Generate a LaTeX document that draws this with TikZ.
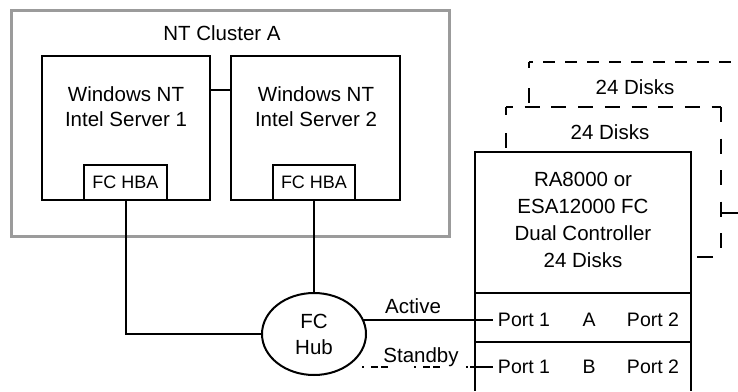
\documentclass[tikz,border=0pt]{standalone}
\usepackage{fontspec}
\setmainfont{Liberation Sans}
\usetikzlibrary{shapes.geometric,backgrounds}
\definecolor{clustergray}{RGB}{155,155,155}
\begin{document}
\begin{tikzpicture}[x=1pt,y=-1pt,
  every node/.style={font=\fontsize{20.5}{25}\selectfont, inner sep=0pt, outer sep=0pt},
  box/.style={draw, line width=2pt},
  clusterbox/.style={draw=clustergray, line width=3pt},
  smalltxt/.style={font=\fontsize{18}{22}\selectfont},
  porttxt/.style={font=\fontsize{19.5}{22}\selectfont},
  hubshape/.style={draw, ellipse, line width=2pt, fill=white, align=center,
    minimum width=104pt, minimum height=82pt, font=\fontsize{20.5}{26}\selectfont},
  conn/.style={line width=2pt},
  standby/.style={line width=2pt, dash pattern=on 1.5pt off 7.5pt on 7pt off 3pt on 7pt off 26pt},
  hdash/.style={line width=2pt, dash pattern=on 12pt off 10pt},
  vdash/.style={line width=2pt, dash pattern=on 15pt off 16.5pt}]
\useasboundingbox (0,0) rectangle (738,391);

% cluster
\node[clusterbox, minimum width=438pt, minimum height=226pt] (cluster) at (230,123) {};
\node (clab) at (222,33.5) {NT Cluster A};

% servers
\node[box, minimum width=168pt, minimum height=144pt] (srv1) at (126,128) {};
\node[box, minimum width=169pt, minimum height=144pt] (srv2) at (315.5,128) {};
\node[align=center] (t1) at (126,106.5) {Windows NT\\Intel Server 1};
\node[align=center] (t2) at (316,106.5) {Windows NT\\Intel Server 2};
\node[box, smalltxt, minimum width=83pt, minimum height=35pt] (hba1) at (125.5,182.5) {FC HBA};
\node[box, smalltxt, minimum width=82pt, minimum height=35pt] (hba2) at (314,182.5) {FC HBA};
\draw[conn] ([yshift=38pt]srv1.east) -- ([yshift=38pt]srv2.west);

% hub
\node[hubshape] (hub) at (314,334) {FC\\Hub};
\draw[conn] (hba1.south) |- (hub.west);
\draw[conn] (hba2.south) -- (hub.north);

% storage
\node[box, minimum width=216pt, minimum height=141pt] (sto) at (583,222.5) {};
\node[align=center, font=\fontsize{20.5}{27}\selectfont] (stot) at (583,220) {RA8000 or\\ESA12000 FC\\Dual Controller\\24 Disks};
\node[box, minimum width=216pt, minimum height=49pt] (rowA) at (583,317.5) {};
\node[minimum width=216pt, minimum height=49pt] (rowB) at (583,366.5) {};
\draw[conn] (rowB.north west) -- (rowB.south west) (rowB.north east) -- (rowB.south east);
\node[porttxt] (pA1) at (524,319.5) {Port 1};
\node[porttxt] (pA) at (589,319.5) {A};
\node[porttxt] (pA2) at (653,319.5) {Port 2};
\node[porttxt] (pB1) at (524,366.5) {Port 1};
\node[porttxt] (pB) at (589,366.5) {B};
\node[porttxt] (pB2) at (653,366.5) {Port 2};

% active / standby
\begin{scope}[on background layer]
\draw[conn] ([xshift=-5pt]pA1.west) -- ([xshift=-5pt]pA1.west -| hub.center);
\end{scope}
\coordinate (sbs) at (362,366.5);
\draw[conn] ([xshift=-5pt]pB1.west) -- ([xshift=-5pt]pB1.west -| rowB.west);
\draw[standby] (sbs) -- (sbs -| rowB.west);
\node[anchor=base] (act) at (413,313) {Active};
\node[anchor=base] (sby) at (421,362) {Standby};

% front dashed disk shelf
\draw[line width=2pt, dash pattern=on 8pt off 18pt on 15pt off 10pt] (506,107) -- (506,152);
\draw[line width=2pt, dash pattern=on 15pt off 11.7pt, dash phase=8pt] (506,107) -- (721,107);
\draw[vdash] (721,107) -- (721,257);
\draw[line width=2pt, dash pattern=on 16pt off 11pt, dash phase=19pt] (721,257) -- (691,257);
\node (d1) at (610,132) {24 Disks};

% back dashed disk shelf
\draw[line width=2pt, dash pattern=on 6pt off 20pt on 15pt off 20pt] (529,62) -- (529,107);
\draw[hdash, dash phase=8pt] (529,62) -- (738,62);
\draw[conn] (721,213) -- (738,213);
\node (d2) at (635,87) {24 Disks};
\end{tikzpicture}
\end{document}
